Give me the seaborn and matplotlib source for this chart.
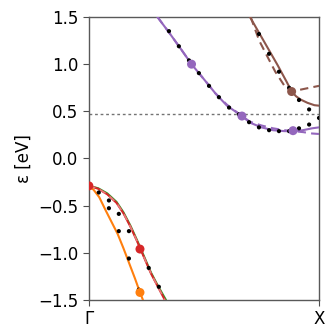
import numpy as np
import pandas as pd
import matplotlib
matplotlib.use("Agg")
import matplotlib.pyplot as plt
import seaborn as sns

# ---- data ----
purple_k = [0.298, 0.35, 0.40, 0.446, 0.50, 0.55, 0.60, 0.665, 0.70, 0.75, 0.80, 0.85, 0.887, 0.93, 0.97, 1.00]
purple_e = [1.50, 1.33, 1.16, 1.00, 0.84, 0.69, 0.56, 0.45, 0.38, 0.33, 0.30, 0.29, 0.29, 0.30, 0.32, 0.33]
purple_dk = [0.298, 0.35, 0.40, 0.446, 0.50, 0.55, 0.60, 0.665, 0.70, 0.75, 0.80, 0.85, 0.887, 0.93, 0.97, 1.00]
purple_de = [1.50, 1.33, 1.16, 1.00, 0.84, 0.69, 0.57, 0.45, 0.39, 0.35, 0.32, 0.30, 0.29, 0.28, 0.265, 0.26]

brown_k = [0.70, 0.74, 0.78, 0.82, 0.86, 0.881, 0.90, 0.92, 0.95, 0.98, 1.00]
brown_e = [1.50, 1.33, 1.16, 0.99, 0.81, 0.71, 0.66, 0.625, 0.59, 0.565, 0.56]
brown_dk = [0.703, 0.74, 0.78, 0.81, 0.85, 0.881, 0.92, 0.96, 1.00]
brown_de = [1.50, 1.25, 1.06, 0.92, 0.77, 0.71, 0.73, 0.75, 0.77]

red_k = [0.00, 0.04, 0.08, 0.12, 0.15, 0.18, 0.21, 0.24, 0.27, 0.30, 0.33]
red_e = [-0.29, -0.32, -0.38, -0.47, -0.58, -0.72, -0.88, -1.05, -1.22, -1.36, -1.50]
green_k = [0.00, 0.04, 0.08, 0.12, 0.15, 0.18, 0.21, 0.24, 0.27, 0.30, 0.335]
green_e = [-0.29, -0.315, -0.37, -0.46, -0.57, -0.71, -0.87, -1.04, -1.21, -1.35, -1.50]
orange_k = [0.00, 0.02, 0.045, 0.075, 0.10, 0.125, 0.15, 0.175, 0.20, 0.222, 0.235]
orange_e = [-0.30, -0.33, -0.41, -0.56, -0.68, -0.80, -0.95, -1.11, -1.27, -1.42, -1.50]

dots_k = [0.348, 0.391, 0.435, 0.478, 0.522, 0.565, 0.609, 0.652, 0.696, 0.739, 0.783, 0.826, 0.870, 0.913, 0.957,
          0.739, 0.783, 0.826, 0.870, 0.913, 0.957, 1.000,
          0.043, 0.087, 0.087, 0.130, 0.130, 0.174, 0.174, 0.217, 0.260, 0.304]
dots_e = [1.35, 1.19, 1.04, 0.905, 0.77, 0.65, 0.54, 0.468, 0.385, 0.33, 0.30, 0.29, 0.29, 0.32, 0.36,
          1.32, 1.11, 0.92, 0.75, 0.62, 0.52, 0.43,
          -0.36, -0.445, -0.527, -0.587, -0.77, -0.77, -1.06, -1.39, -1.16, -1.36]

mark_k = [0.446, 0.665, 0.887, 0.881, 0.222, 0.222, 0.0]
mark_e = [1.00, 0.45, 0.295, 0.71, -0.96, -1.42, -0.29]
mark_c = ["#9467bd", "#9467bd", "#9467bd", "#8c564b", "#d62728", "#ff7f0e", "#d62728"]

fermi = 0.468
xticks = [0.0, 1.0]
xticklabels = ["Γ", "X"]
yticks = [-1.5, -1.0, -0.5, 0.0, 0.5, 1.0, 1.5]

# ---- plot ----
sns.set_style("ticks")
plt.rcParams["font.family"] = ["DejaVu Sans"]
fig = plt.figure(figsize=(3.28, 3.30), dpi=100)
ax = fig.add_axes([0.271, 0.0909, 0.7016, 0.8576])

def line(k, e, color, ls="-", lw=1.5, z=2):
    df = pd.DataFrame({"k": k, "e": e})
    sns.lineplot(data=df, x="k", y="e", ax=ax, color=color, linestyle=ls, lw=lw,
                 sort=False, estimator=None, zorder=z)

line(green_k, green_e, "#2ca02c", z=2)
line(red_k, red_e, "#d62728", z=3)
line(red_k, red_e, "#e8787a", ls=(0, (4, 3)), lw=1.2, z=3.1)
line(orange_k, orange_e, "#ff7f0e", z=3)
line(purple_k, purple_e, "#9467bd", z=3)
line(purple_dk, purple_de, "#9467bd", ls=(0, (4, 2.5)), z=3)
line(brown_k, brown_e, "#8c564b", z=3)
line(brown_dk, brown_de, "#8c564b", ls=(0, (4, 2.5)), z=3)

ax.axhline(fermi, color="0.45", ls=(0, (2, 2)), lw=1.0, zorder=1)

dots = pd.DataFrame({"k": dots_k, "e": dots_e})
sns.scatterplot(data=dots, x="k", y="e", ax=ax, color="black", s=9, edgecolor="none", zorder=5)

marks = pd.DataFrame({"k": mark_k, "e": mark_e, "c": mark_c})
for c, sub in marks.groupby("c"):
    sns.scatterplot(data=sub, x="k", y="e", ax=ax, color=c, s=42, edgecolor="none", zorder=6)

ax.set_xlim(0, 1)
ax.set_ylim(-1.5, 1.5)
ax.set_xticks(xticks)
ax.set_xticklabels(xticklabels)
ax.set_yticks(yticks)
ax.set_yticklabels([f"{v:.1f}".replace("-", "\u2212") for v in yticks])
ax.set_xlabel("")
ax.set_ylabel("ε [eV]", fontsize=12, color="black")
ax.tick_params(labelsize=12, length=4, color="0.3", labelcolor="black")
for s in ax.spines.values():
    s.set_visible(True)
    s.set_color("0.35")
    s.set_linewidth(1.0)

fig.savefig("out.png", dpi=100)
